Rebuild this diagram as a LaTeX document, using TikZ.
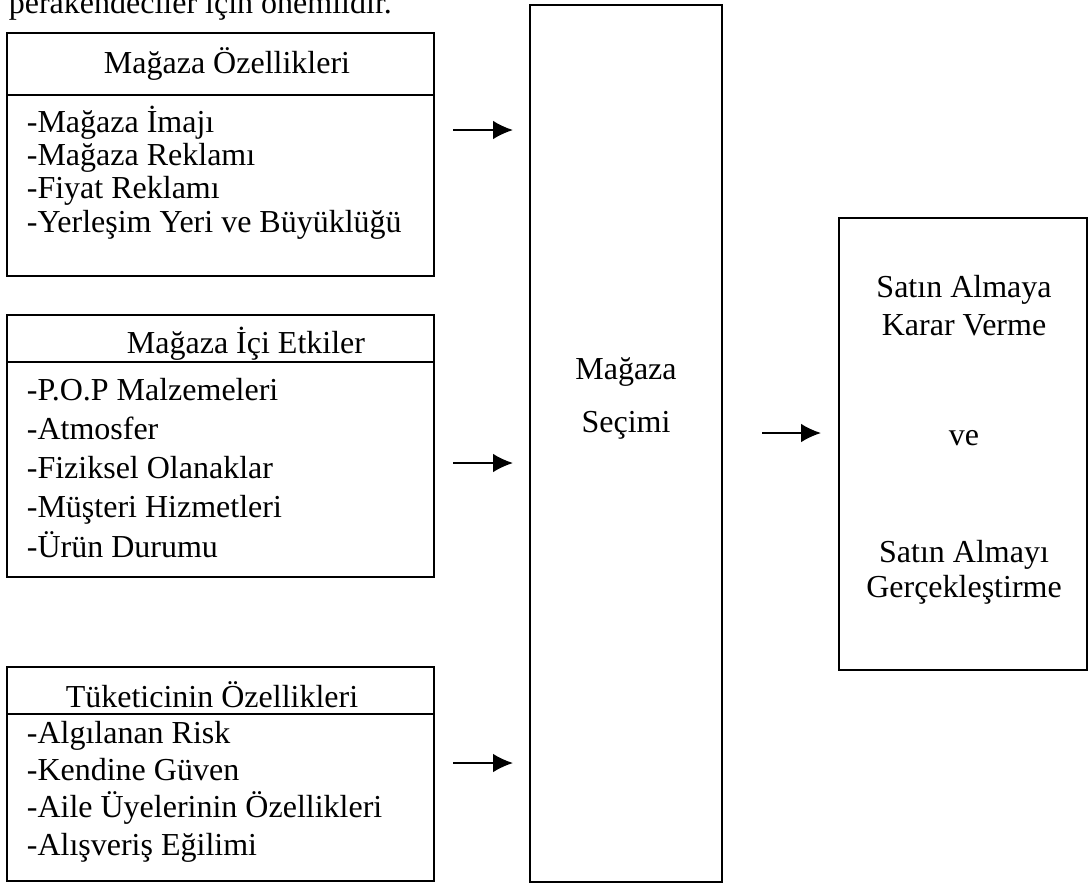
\documentclass[tikz,border=0pt]{standalone}
\usepackage{fontspec}
\setmainfont{Liberation Serif}
\usetikzlibrary{arrows.meta,fit}

\tikzset{
  box/.style={draw, inner sep=0pt},
  txt/.style={inner sep=0pt, font=\fontsize{24}{27}\selectfont},
  item/.style={txt, anchor=base west},
  head/.style={txt, anchor=base},
}

\begin{document}
\begin{tikzpicture}[x=0.75pt, y=-0.75pt, line width=1.3pt, >={Latex[length=15pt,width=14pt]}]
\useasboundingbox (0,0) rectangle (1089,883);
\clip (0,0) rectangle (1089,883);

\node[item] (ust) at (8,13) {perakendeciler için önemlidir.};

% left boxes
\node[box, fit={(7,33) (434,276)}] (ozellik) {};
\draw (7,95) -- (434,95);
\node[head] (ozellikH) at (227,73) {Mağaza Özellikleri};
\foreach \t [count=\i] in {-Mağaza İmajı, -Mağaza Reklamı, -Fiyat Reklamı, -Yerleşim Yeri ve Büyüklüğü}
{
    \node[item] (oz\i) at (26,99+33.3*\i) {\t};
}

\node[box, fit={(7,315) (434,577)}] (ici) {};
\draw (7,362) -- (434,362);
\node[head] (iciH) at (246,353) {Mağaza İçi Etkiler};
\foreach \t [count=\i] in {-P.O.P Malzemeleri, -Atmosfer, -Fiziksel Olanaklar, -Müşteri Hizmetleri, -Ürün Durumu}
{
    \node[item] (ic\i) at (26,361+39.2*\i) {\t};
}

\node[box, fit={(7,667) (434,881)}] (tuk) {};
\draw (7,714) -- (434,714);
\node[head] (tukH) at (212,707) {Tüketicinin Özellikleri};
\foreach \t [count=\i] in {-Algılanan Risk, -Kendine Güven, -Aile Üyelerinin Özellikleri, -Alışveriş Eğilimi}
{
    \node[item] (tu\i) at (26,706+37.3*\i) {\t};
}

% middle and right boxes
\node[box, fit={(530,5) (722,882)}] (secim) {};
\node[head] (secim1) at (626,379) {Mağaza};
\node[head] (secim2) at (626,432) {Seçimi};

\node[box, fit={(839,218) (1087,670)}] (karar) {};
\node[head] (karar1) at (964,297) {Satın Almaya};
\node[head] (karar2) at (964,335) {Karar Verme};
\node[head] (karar3) at (964,445) {ve};
\node[head] (karar4) at (964,562) {Satın Almayı};
\node[head] (karar5) at (964,597) {Gerçekleştirme};

% arrows
\foreach \y [count=\i] in {130,463,763}
{
    \coordinate (s\i) at (453,\y);
    \coordinate (t\i) at (513,\y);
    \draw[->] (s\i) -- (t\i);
}
\coordinate (s4) at (762,433);
\coordinate (t4) at (821,433);
\draw[->] (s4) -- (t4);

\end{tikzpicture}
\end{document}
